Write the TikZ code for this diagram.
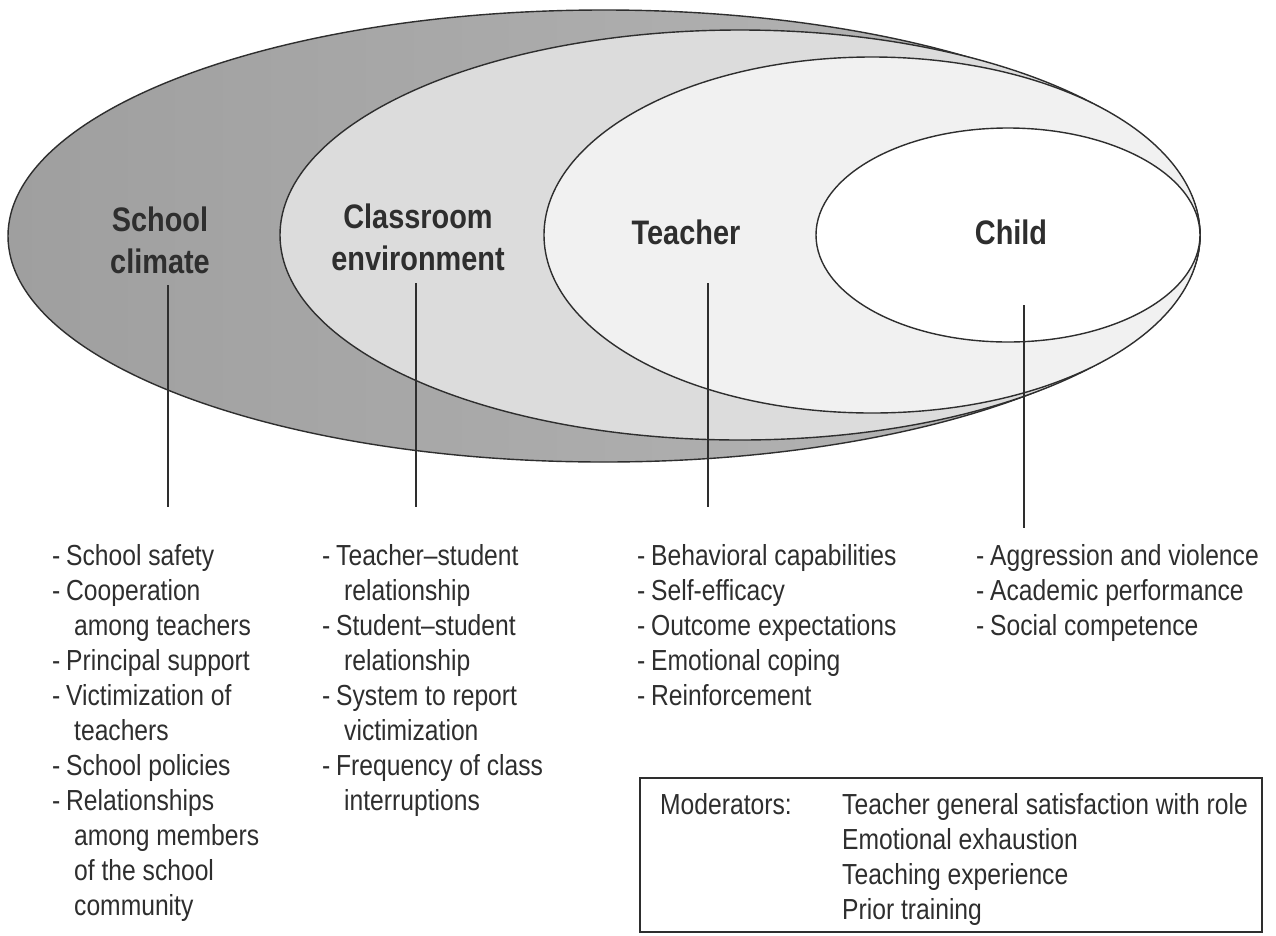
\documentclass[tikz,border=0pt]{standalone}
\usepackage{fontspec}
\setmainfont{Liberation Sans}[FakeStretch=0.85]
\usetikzlibrary{calc}
\definecolor{ink}{HTML}{2E2E2E}
\definecolor{climate}{HTML}{9F9F9F}
\definecolor{climatelt}{HTML}{B8B8B8}
\definecolor{classroom}{HTML}{DCDCDC}
\definecolor{teacherbg}{HTML}{F1F1F1}
\newcommand\itm{\makebox[14pt][l]{-}}
\newcommand\cont{\hspace*{22pt}}
\begin{document}
\begin{tikzpicture}[x=1pt,y=-1pt,
  ring/.style={draw=ink,line width=1.4pt},
  title/.style={font=\fontsize{34}{42}\selectfont\bfseries,text=ink,align=center,inner sep=0pt},
  factors/.style={font=\fontsize{29}{35}\selectfont,text=ink,align=left,inner sep=0pt,anchor=north west},
  link/.style={draw=ink,line width=1.1pt}]
\useasboundingbox (0,0) rectangle (1276,935);
\fill[white] (0,0) rectangle (1276,935);
% nested ellipses, all touching at the right-hand tip
\shade[left color=climate,right color=climatelt] (604,236) ellipse [x radius=596,y radius=226];
\draw[ring] (604,236) ellipse [x radius=596,y radius=226];
\filldraw[ring,fill=classroom] (740,235) ellipse [x radius=460,y radius=205];
\filldraw[ring,fill=teacherbg] (872,235) ellipse [x radius=328,y radius=178];
\filldraw[ring,fill=white] (1008,235) ellipse [x radius=192,y radius=107];
% level titles
\node[title] (school) at (160,240) {School\\climate};
\node[title] (class) at (418,237) {Classroom\\environment};
\node[title] (teacher) at (686,232) {Teacher};
\node[title] (child) at (1011,232) {Child};
% line ends
\coordinate (s1) at (168,285); \coordinate (s2) at (168,507);
\coordinate (c1) at (416,283); \coordinate (c2) at (416,507);
\coordinate (t1) at (708,283); \coordinate (t2) at (708,507);
\coordinate (h1) at (1024,305); \coordinate (h2) at (1024,528);
\draw[link] (s1) -- (s2);
\draw[link] (c1) -- (c2);
\draw[link] (t1) -- (t2);
\draw[link] (h1) -- (h2);
% factor lists
\node[factors] (schoollist) at (52,544) {\itm School safety\\
\itm Cooperation\\ \cont among teachers\\
\itm Principal support\\
\itm Victimization of\\ \cont teachers\\
\itm School policies\\
\itm Relationships\\ \cont among members\\ \cont of the school\\ \cont community};
\node[factors] (classlist) at (322,544) {\itm Teacher--student\\ \cont relationship\\
\itm Student--student\\ \cont relationship\\
\itm System to report\\ \cont victimization\\
\itm Frequency of class\\ \cont interruptions};
\node[factors] (teacherlist) at (637,544) {\itm Behavioral capabilities\\
\itm Self-efficacy\\
\itm Outcome expectations\\
\itm Emotional coping\\
\itm Reinforcement};
\node[factors] (childlist) at (976,544) {\itm Aggression and violence\\
\itm Academic performance\\
\itm Social competence};
% moderators box
\draw[ink,line width=1.2pt] (640,778) rectangle (1262,932);
\node[factors] (modlabel) at (660,793) {Moderators:};
\node[factors] (modlist) at (842,793) {Teacher general satisfaction with role\\
Emotional exhaustion\\
Teaching experience\\
Prior training};
\end{tikzpicture}
\end{document}
